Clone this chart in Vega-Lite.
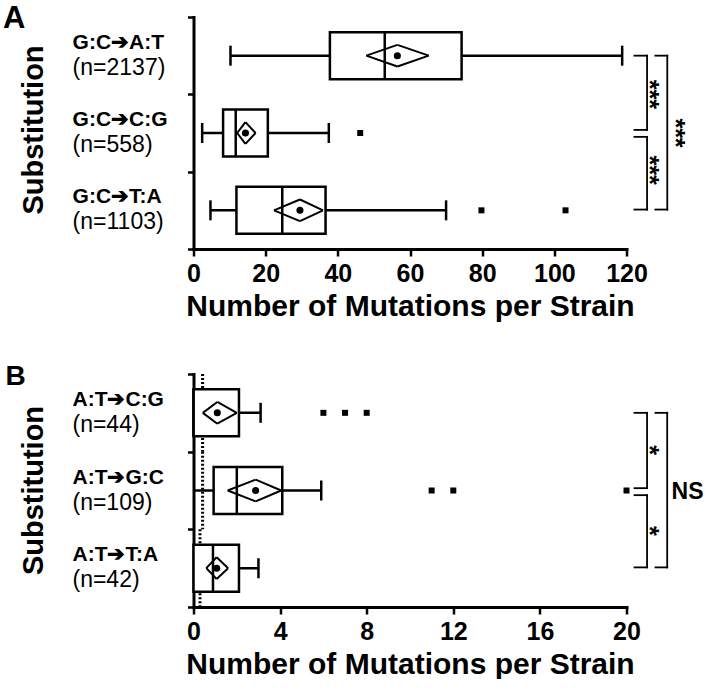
{
  "$schema": "https://vega.github.io/schema/vega-lite/v6.json",
  "background": "white",
  "padding": {"left": 2.5, "top": 2, "right": 0, "bottom": 0},
  "spacing": 41,
  "config": {
    "view": {"stroke": null},
    "font": "Liberation Sans",
    "axis": {"domainColor": "black", "domainWidth": 3, "tickColor": "black", "tickWidth": 2.5, "labelColor": "black", "titleColor": "black", "grid": false}
  },
  "datasets": {
    "boxA": [
      {"cat": "G:C➔A:T", "n": "(n=2137)", "low": 10.25, "q1": 37.8, "median": 53.0, "q3": 74.3, "high": 118.8, "mean": 56.5, "ciLow": 47.9, "ciHigh": 65.2},
      {"cat": "G:C➔C:G", "n": "(n=558)", "low": 2.4, "q1": 8.2, "median": 11.7, "q3": 20.6, "high": 37.5, "mean": 14.4, "ciLow": 12.1, "ciHigh": 17.2},
      {"cat": "G:C➔T:A", "n": "(n=1103)", "low": 4.7, "q1": 11.9, "median": 24.6, "q3": 36.6, "high": 70.0, "mean": 29.5, "ciLow": 22.3, "ciHigh": 35.9}
    ],
    "outA": [
      {"cat": "G:C➔C:G", "v": 46.2},
      {"cat": "G:C➔T:A", "v": 79.8},
      {"cat": "G:C➔T:A", "v": 103.1}
    ],
    "boxB": [
      {"cat": "A:T➔C:G", "n": "(n=44)", "low": 0, "q1": 0, "median": 0, "q3": 2.1, "high": 3.1, "mean": 1.1, "ciLow": 0.43, "ciHigh": 2.0},
      {"cat": "A:T➔G:C", "n": "(n=109)", "low": 0, "q1": 0.93, "median": 2.0, "q3": 4.1, "high": 5.9, "mean": 2.87, "ciLow": 1.58, "ciHigh": 4.05},
      {"cat": "A:T➔T:A", "n": "(n=42)", "low": 0, "q1": 0, "median": 0.9, "q3": 2.1, "high": 3.0, "mean": 1.07, "ciLow": 0.59, "ciHigh": 1.6}
    ],
    "outB": [
      {"cat": "A:T➔C:G", "v": 6},
      {"cat": "A:T➔C:G", "v": 7},
      {"cat": "A:T➔C:G", "v": 8},
      {"cat": "A:T➔G:C", "v": 11},
      {"cat": "A:T➔G:C", "v": 12},
      {"cat": "A:T➔G:C", "v": 20}
    ],
    "dotB": [
      {"cat": "A:T➔C:G", "v": 0.42},
      {"cat": "A:T➔G:C", "v": 0.42},
      {"cat": "A:T➔T:A", "v": 0.3}
    ]
  },
  "vconcat": [
    {
      "width": 433,
      "height": 232,
      "layer": [
        {
          "data": {"name": "boxA"},
          "mark": {"type": "rule", "color": "black", "strokeWidth": 2.5},
          "encoding": {
            "y": {"field": "cat", "type": "nominal", "sort": null,
              "scale": {"domain": ["G:C➔A:T", "G:C➔C:G", "G:C➔T:A"], "paddingInner": 0, "paddingOuter": 0},
              "axis": {"labels": false, "ticks": true, "tickBand": "extent", "tickSize": 6, "domainCap": "square", "title": "Substitution", "titleFontSize": 29, "titleFontWeight": "bold", "titleFont": "Liberation Sans", "titleX": -151, "titleY": 112.5, "titleAngle": 270, "titleBaseline": "alphabetic", "titleAlign": "center"}},
            "x": {"field": "low", "type": "quantitative",
              "scale": {"domain": [0, 120], "nice": false, "zero": false},
              "axis": {"values": [0, 20, 40, 60, 80, 100, 120], "tickSize": 7, "labelFlush": false, "labelOverlap": false, "labelFont": "Liberation Sans Narrow, Arial Narrow, Liberation Sans", "labelFontWeight": "bold", "labelFontSize": 25, "labelPadding": 5, "domainCap": "square", "title": "Number of Mutations per Strain", "titleFontSize": 30, "titleFontWeight": "bold", "titleFont": "Liberation Sans", "titlePadding": 5}},
            "x2": {"field": "high"}
          }
        },
        {
          "data": {"name": "boxA"},
          "mark": {"type": "bar", "fill": "white", "stroke": "black", "strokeWidth": 2.5, "size": 47},
          "encoding": {
            "y": {"field": "cat", "type": "nominal"},
            "x": {"field": "q1", "type": "quantitative"},
            "x2": {"field": "q3"}
          }
        },
        {
          "data": {"name": "boxA"},
          "mark": {"type": "tick", "color": "black", "orient": "vertical", "size": 47, "thickness": 2.5, "opacity": 1},
          "encoding": {
            "y": {"field": "cat", "type": "nominal"},
            "x": {"field": "median", "type": "quantitative"}
          }
        },
        {
          "data": {"name": "boxA"},
          "mark": {"type": "tick", "color": "black", "orient": "vertical", "size": 20, "thickness": 2.5, "opacity": 1},
          "encoding": {
            "y": {"field": "cat", "type": "nominal"},
            "x": {"field": "low", "type": "quantitative"}
          }
        },
        {
          "data": {"name": "boxA"},
          "mark": {"type": "tick", "color": "black", "orient": "vertical", "size": 20, "thickness": 2.5, "opacity": 1},
          "encoding": {
            "y": {"field": "cat", "type": "nominal"},
            "x": {"field": "high", "type": "quantitative"}
          }
        },
        {
          "data": {"name": "boxA"},
          "mark": {"type": "rule", "color": "black", "strokeWidth": 2},
          "encoding": {
            "y": {"field": "cat", "type": "nominal", "bandPosition": 0.5},
            "y2": {"field": "cat", "bandPosition": 0.36},
            "x": {"field": "ciLow", "type": "quantitative"},
            "x2": {"field": "mean"}
          }
        },
        {
          "data": {"name": "boxA"},
          "mark": {"type": "rule", "color": "black", "strokeWidth": 2},
          "encoding": {
            "y": {"field": "cat", "type": "nominal", "bandPosition": 0.36},
            "y2": {"field": "cat", "bandPosition": 0.5},
            "x": {"field": "mean", "type": "quantitative"},
            "x2": {"field": "ciHigh"}
          }
        },
        {
          "data": {"name": "boxA"},
          "mark": {"type": "rule", "color": "black", "strokeWidth": 2},
          "encoding": {
            "y": {"field": "cat", "type": "nominal", "bandPosition": 0.5},
            "y2": {"field": "cat", "bandPosition": 0.64},
            "x": {"field": "ciLow", "type": "quantitative"},
            "x2": {"field": "mean"}
          }
        },
        {
          "data": {"name": "boxA"},
          "mark": {"type": "rule", "color": "black", "strokeWidth": 2},
          "encoding": {
            "y": {"field": "cat", "type": "nominal", "bandPosition": 0.64},
            "y2": {"field": "cat", "bandPosition": 0.5},
            "x": {"field": "mean", "type": "quantitative"},
            "x2": {"field": "ciHigh"}
          }
        },
        {
          "data": {"name": "boxA"},
          "mark": {"type": "circle", "color": "black", "size": 50, "opacity": 1},
          "encoding": {
            "y": {"field": "cat", "type": "nominal"},
            "x": {"field": "mean", "type": "quantitative"}
          }
        },
        {
          "data": {"name": "outA"},
          "mark": {"type": "square", "color": "black", "size": 36, "opacity": 1},
          "encoding": {
            "y": {"field": "cat", "type": "nominal"},
            "x": {"field": "v", "type": "quantitative"}
          }
        },
        {
          "data": {"name": "boxA"},
          "mark": {"type": "text", "align": "left", "baseline": "alphabetic", "dy": -7, "fontSize": 21, "fontWeight": "bold", "color": "black"},
          "encoding": {
            "y": {"field": "cat", "type": "nominal"},
            "x": {"datum": -33.5, "type": "quantitative"},
            "text": {"field": "cat"}
          }
        },
        {
          "data": {"name": "boxA"},
          "mark": {"type": "text", "align": "left", "baseline": "alphabetic", "dy": 19, "fontSize": 23, "fontWeight": "normal", "color": "black"},
          "encoding": {
            "y": {"field": "cat", "type": "nominal"},
            "x": {"datum": -33.5, "type": "quantitative"},
            "text": {"field": "n"}
          }
        },
        {
          "data": {"values": [{"panel": "A", "cat": "G:C➔A:T"}]},
          "mark": {"type": "text", "align": "left", "baseline": "alphabetic", "fontSize": 31, "fontWeight": "bold", "color": "black"},
          "encoding": {
            "y": {"field": "cat", "type": "nominal", "bandPosition": 0.14},
            "x": {"datum": -52.8, "type": "quantitative"},
            "text": {"field": "panel"}
          }
        },
        {
          "data": {"values": [{"a": "G:C➔A:T", "b": "G:C➔C:G", "sig": "***"}]},
          "layer": [
            {"mark": {"type": "rule", "color": "black", "strokeWidth": 1.8, "strokeCap": "square"},
             "encoding": {"x": {"datum": 125.7, "type": "quantitative"}, "y": {"field": "a", "type": "nominal", "bandPosition": 0.5}, "y2": {"field": "b", "bandPosition": 0.46}}},
            {"mark": {"type": "rule", "color": "black", "strokeWidth": 1.8, "strokeCap": "square"},
             "encoding": {"x": {"datum": 122.2, "type": "quantitative"}, "x2": {"datum": 125.7}, "y": {"field": "a", "type": "nominal", "bandPosition": 0.5}}},
            {"mark": {"type": "rule", "color": "black", "strokeWidth": 1.8, "strokeCap": "square"},
             "encoding": {"x": {"datum": 122.2, "type": "quantitative"}, "x2": {"datum": 125.7}, "y": {"field": "b", "type": "nominal", "bandPosition": 0.46}}},
            {"mark": {"type": "text", "angle": 90, "align": "center", "baseline": "middle", "dy": 7, "fontSize": 25, "fontWeight": "bold", "color": "black"},
             "encoding": {"x": {"datum": 128.2, "type": "quantitative"}, "y": {"field": "a", "type": "nominal", "bandPosition": 1}, "text": {"field": "sig"}}}
          ]
        },
        {
          "data": {"values": [{"a": "G:C➔C:G", "b": "G:C➔T:A", "sig": "***"}]},
          "layer": [
            {"mark": {"type": "rule", "color": "black", "strokeWidth": 1.8, "strokeCap": "square"},
             "encoding": {"x": {"datum": 125.7, "type": "quantitative"}, "y": {"field": "a", "type": "nominal", "bandPosition": 0.55}, "y2": {"field": "b", "bandPosition": 0.49}}},
            {"mark": {"type": "rule", "color": "black", "strokeWidth": 1.8, "strokeCap": "square"},
             "encoding": {"x": {"datum": 122.2, "type": "quantitative"}, "x2": {"datum": 125.7}, "y": {"field": "a", "type": "nominal", "bandPosition": 0.55}}},
            {"mark": {"type": "rule", "color": "black", "strokeWidth": 1.8, "strokeCap": "square"},
             "encoding": {"x": {"datum": 122.2, "type": "quantitative"}, "x2": {"datum": 125.7}, "y": {"field": "b", "type": "nominal", "bandPosition": 0.49}}},
            {"mark": {"type": "text", "angle": 90, "align": "center", "baseline": "middle", "dy": 7, "fontSize": 25, "fontWeight": "bold", "color": "black"},
             "encoding": {"x": {"datum": 128.2, "type": "quantitative"}, "y": {"field": "a", "type": "nominal", "bandPosition": 0.98}, "text": {"field": "sig"}}}
          ]
        },
        {
          "data": {"values": [{"a": "G:C➔A:T", "b": "G:C➔T:A", "sig": "***"}]},
          "layer": [
            {"mark": {"type": "rule", "color": "black", "strokeWidth": 1.8, "strokeCap": "square"},
             "encoding": {"x": {"datum": 131.3, "type": "quantitative"}, "y": {"field": "a", "type": "nominal", "bandPosition": 0.5}, "y2": {"field": "b", "bandPosition": 0.49}}},
            {"mark": {"type": "rule", "color": "black", "strokeWidth": 1.8, "strokeCap": "square"},
             "encoding": {"x": {"datum": 128.0, "type": "quantitative"}, "x2": {"datum": 131.3}, "y": {"field": "a", "type": "nominal", "bandPosition": 0.5}}},
            {"mark": {"type": "rule", "color": "black", "strokeWidth": 1.8, "strokeCap": "square"},
             "encoding": {"x": {"datum": 128.0, "type": "quantitative"}, "x2": {"datum": 131.3}, "y": {"field": "b", "type": "nominal", "bandPosition": 0.49}}},
            {"mark": {"type": "text", "angle": 90, "align": "center", "baseline": "middle", "dy": 7, "fontSize": 25, "fontWeight": "bold", "color": "black"},
             "encoding": {"x": {"datum": 135.4, "type": "quantitative"}, "y": {"field": "a", "type": "nominal", "bandPosition": 1.5}, "text": {"field": "sig"}}}
          ]
        }
      ]
    },
    {
      "width": 433,
      "height": 233,
      "layer": [
        {
          "data": {"name": "boxB"},
          "mark": {"type": "rule", "color": "black", "strokeWidth": 2.5},
          "encoding": {
            "y": {"field": "cat", "type": "nominal", "sort": null,
              "scale": {"domain": ["A:T➔C:G", "A:T➔G:C", "A:T➔T:A"], "paddingInner": 0, "paddingOuter": 0},
              "axis": {"labels": false, "ticks": true, "tickBand": "extent", "tickSize": 6, "domainCap": "square", "title": "Substitution", "titleFontSize": 29, "titleFontWeight": "bold", "titleFont": "Liberation Sans", "titleX": -151, "titleY": 116, "titleAngle": 270, "titleBaseline": "alphabetic", "titleAlign": "center"}},
            "x": {"field": "low", "type": "quantitative",
              "scale": {"domain": [0, 20], "nice": false, "zero": false},
              "axis": {"values": [0, 4, 8, 12, 16, 20], "tickSize": 7, "labelFlush": false, "labelOverlap": false, "labelFont": "Liberation Sans Narrow, Arial Narrow, Liberation Sans", "labelFontWeight": "bold", "labelFontSize": 25, "labelPadding": 5, "domainCap": "square", "title": "Number of Mutations per Strain", "titleFontSize": 30, "titleFontWeight": "bold", "titleFont": "Liberation Sans", "titlePadding": 5}},
            "x2": {"field": "high"}
          }
        },
        {
          "data": {"name": "dotB"},
          "mark": {"type": "rule", "color": "black", "strokeWidth": 3, "strokeDash": [2, 2]},
          "encoding": {
            "y": {"field": "cat", "type": "nominal", "bandPosition": 0},
            "y2": {"field": "cat", "bandPosition": 1},
            "x": {"field": "v", "type": "quantitative"}
          }
        },
        {
          "data": {"name": "boxB"},
          "mark": {"type": "bar", "fill": "white", "stroke": "black", "strokeWidth": 2.5, "size": 47},
          "encoding": {
            "y": {"field": "cat", "type": "nominal"},
            "x": {"field": "q1", "type": "quantitative"},
            "x2": {"field": "q3"}
          }
        },
        {
          "data": {"name": "boxB"},
          "mark": {"type": "tick", "color": "black", "orient": "vertical", "size": 47, "thickness": 2.5, "opacity": 1},
          "encoding": {
            "y": {"field": "cat", "type": "nominal"},
            "x": {"field": "median", "type": "quantitative"}
          }
        },
        {
          "data": {"name": "boxB"},
          "mark": {"type": "tick", "color": "black", "orient": "vertical", "size": 20, "thickness": 2.5, "opacity": 1},
          "encoding": {
            "y": {"field": "cat", "type": "nominal"},
            "x": {"field": "high", "type": "quantitative"}
          }
        },
        {
          "data": {"name": "boxB"},
          "mark": {"type": "rule", "color": "black", "strokeWidth": 2},
          "encoding": {
            "y": {"field": "cat", "type": "nominal", "bandPosition": 0.5},
            "y2": {"field": "cat", "bandPosition": 0.36},
            "x": {"field": "ciLow", "type": "quantitative"},
            "x2": {"field": "mean"}
          }
        },
        {
          "data": {"name": "boxB"},
          "mark": {"type": "rule", "color": "black", "strokeWidth": 2},
          "encoding": {
            "y": {"field": "cat", "type": "nominal", "bandPosition": 0.36},
            "y2": {"field": "cat", "bandPosition": 0.5},
            "x": {"field": "mean", "type": "quantitative"},
            "x2": {"field": "ciHigh"}
          }
        },
        {
          "data": {"name": "boxB"},
          "mark": {"type": "rule", "color": "black", "strokeWidth": 2},
          "encoding": {
            "y": {"field": "cat", "type": "nominal", "bandPosition": 0.5},
            "y2": {"field": "cat", "bandPosition": 0.64},
            "x": {"field": "ciLow", "type": "quantitative"},
            "x2": {"field": "mean"}
          }
        },
        {
          "data": {"name": "boxB"},
          "mark": {"type": "rule", "color": "black", "strokeWidth": 2},
          "encoding": {
            "y": {"field": "cat", "type": "nominal", "bandPosition": 0.64},
            "y2": {"field": "cat", "bandPosition": 0.5},
            "x": {"field": "mean", "type": "quantitative"},
            "x2": {"field": "ciHigh"}
          }
        },
        {
          "data": {"name": "boxB"},
          "mark": {"type": "circle", "color": "black", "size": 50, "opacity": 1},
          "encoding": {
            "y": {"field": "cat", "type": "nominal"},
            "x": {"field": "mean", "type": "quantitative"}
          }
        },
        {
          "data": {"name": "outB"},
          "mark": {"type": "square", "color": "black", "size": 36, "opacity": 1},
          "encoding": {
            "y": {"field": "cat", "type": "nominal"},
            "x": {"field": "v", "type": "quantitative"}
          }
        },
        {
          "data": {"name": "boxB"},
          "mark": {"type": "text", "align": "left", "baseline": "alphabetic", "dy": -7, "fontSize": 21, "fontWeight": "bold", "color": "black"},
          "encoding": {
            "y": {"field": "cat", "type": "nominal"},
            "x": {"datum": -5.59, "type": "quantitative"},
            "text": {"field": "cat"}
          }
        },
        {
          "data": {"name": "boxB"},
          "mark": {"type": "text", "align": "left", "baseline": "alphabetic", "dy": 19, "fontSize": 23, "fontWeight": "normal", "color": "black"},
          "encoding": {
            "y": {"field": "cat", "type": "nominal"},
            "x": {"datum": -5.59, "type": "quantitative"},
            "text": {"field": "n"}
          }
        },
        {
          "data": {"values": [{"panel": "B", "cat": "A:T➔C:G"}]},
          "mark": {"type": "text", "align": "left", "baseline": "alphabetic", "fontSize": 28, "fontWeight": "bold", "color": "black"},
          "encoding": {
            "y": {"field": "cat", "type": "nominal", "bandPosition": 0.14},
            "x": {"datum": -8.68, "type": "quantitative"},
            "text": {"field": "panel"}
          }
        },
        {
          "data": {"values": [{"a": "A:T➔C:G", "b": "A:T➔G:C", "sig": "*"}]},
          "layer": [
            {"mark": {"type": "rule", "color": "black", "strokeWidth": 1.8, "strokeCap": "square"},
             "encoding": {"x": {"datum": 20.95, "type": "quantitative"}, "y": {"field": "a", "type": "nominal", "bandPosition": 0.5}, "y2": {"field": "b", "bandPosition": 0.47}}},
            {"mark": {"type": "rule", "color": "black", "strokeWidth": 1.8, "strokeCap": "square"},
             "encoding": {"x": {"datum": 20.37, "type": "quantitative"}, "x2": {"datum": 20.95}, "y": {"field": "a", "type": "nominal", "bandPosition": 0.5}}},
            {"mark": {"type": "rule", "color": "black", "strokeWidth": 1.8, "strokeCap": "square"},
             "encoding": {"x": {"datum": 20.37, "type": "quantitative"}, "x2": {"datum": 20.95}, "y": {"field": "b", "type": "nominal", "bandPosition": 0.47}}},
            {"mark": {"type": "text", "angle": 90, "align": "center", "baseline": "middle", "dy": 7, "fontSize": 25, "fontWeight": "bold", "color": "black"},
             "encoding": {"x": {"datum": 21.34, "type": "quantitative"}, "y": {"field": "a", "type": "nominal", "bandPosition": 0.98}, "text": {"field": "sig"}}}
          ]
        },
        {
          "data": {"values": [{"a": "A:T➔G:C", "b": "A:T➔T:A", "sig": "*"}]},
          "layer": [
            {"mark": {"type": "rule", "color": "black", "strokeWidth": 1.8, "strokeCap": "square"},
             "encoding": {"x": {"datum": 20.95, "type": "quantitative"}, "y": {"field": "a", "type": "nominal", "bandPosition": 0.56}, "y2": {"field": "b", "bandPosition": 0.49}}},
            {"mark": {"type": "rule", "color": "black", "strokeWidth": 1.8, "strokeCap": "square"},
             "encoding": {"x": {"datum": 20.37, "type": "quantitative"}, "x2": {"datum": 20.95}, "y": {"field": "a", "type": "nominal", "bandPosition": 0.56}}},
            {"mark": {"type": "rule", "color": "black", "strokeWidth": 1.8, "strokeCap": "square"},
             "encoding": {"x": {"datum": 20.37, "type": "quantitative"}, "x2": {"datum": 20.95}, "y": {"field": "b", "type": "nominal", "bandPosition": 0.49}}},
            {"mark": {"type": "text", "angle": 90, "align": "center", "baseline": "middle", "dy": 7, "fontSize": 25, "fontWeight": "bold", "color": "black"},
             "encoding": {"x": {"datum": 21.34, "type": "quantitative"}, "y": {"field": "a", "type": "nominal", "bandPosition": 1.02}, "text": {"field": "sig"}}}
          ]
        },
        {
          "data": {"values": [{"a": "A:T➔C:G", "b": "A:T➔T:A", "sig": "NS"}]},
          "layer": [
            {"mark": {"type": "rule", "color": "black", "strokeWidth": 1.8, "strokeCap": "square"},
             "encoding": {"x": {"datum": 21.88, "type": "quantitative"}, "y": {"field": "a", "type": "nominal", "bandPosition": 0.5}, "y2": {"field": "b", "bandPosition": 0.49}}},
            {"mark": {"type": "rule", "color": "black", "strokeWidth": 1.8, "strokeCap": "square"},
             "encoding": {"x": {"datum": 21.34, "type": "quantitative"}, "x2": {"datum": 21.88}, "y": {"field": "a", "type": "nominal", "bandPosition": 0.5}}},
            {"mark": {"type": "rule", "color": "black", "strokeWidth": 1.8, "strokeCap": "square"},
             "encoding": {"x": {"datum": 21.34, "type": "quantitative"}, "x2": {"datum": 21.88}, "y": {"field": "b", "type": "nominal", "bandPosition": 0.49}}},
            {"mark": {"type": "text", "align": "left", "baseline": "middle", "fontSize": 23, "fontWeight": "bold", "color": "black"},
             "encoding": {"x": {"datum": 22.08, "type": "quantitative"}, "y": {"field": "a", "type": "nominal", "bandPosition": 1.52}, "text": {"field": "sig"}}}
          ]
        }
      ]
    }
  ]
}
